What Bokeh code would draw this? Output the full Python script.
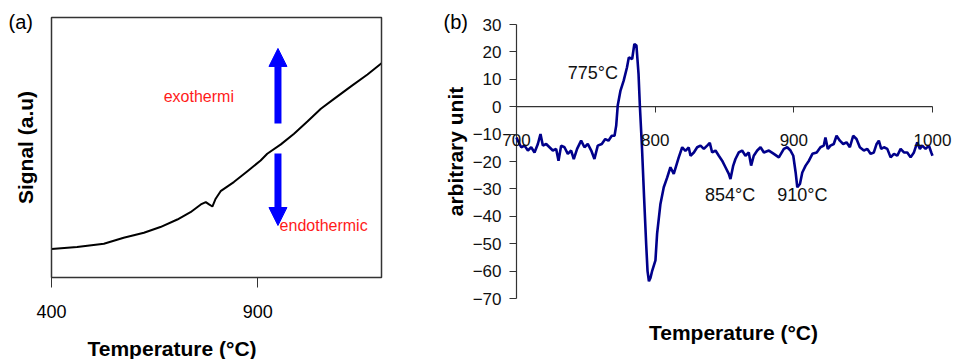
import math
from bokeh.plotting import figure
from bokeh.layouts import row
from bokeh.models import FixedTicker, Label, Arrow, NormalHead, Range1d, ColumnDataSource, BoxAnnotation
from bokeh.embed import file_html
from bokeh.resources import INLINE
from bokeh.core.properties import value

FONT = "Liberation Sans"

# ---------------- panel (a) data ----------------
a_temp = [400, 462, 527, 575, 624, 664, 705, 737, 762, 774, 782, 790, 798, 810,
          842, 875, 907, 923, 956, 988, 1021, 1053, 1085, 1126, 1166, 1200]
a_signal = [11.0, 11.7, 13.0, 15.3, 17.2, 19.4, 22.3, 25.1, 28.1, 29.0, 28.1, 27.3, 30.3, 33.2,
            36.7, 40.9, 45.0, 47.6, 51.2, 55.3, 60.1, 64.9, 68.7, 73.5, 78.1, 82.4]
a_xlim = [400, 1200]
a_ylim = [0, 100]
a_xticks = [400, 900]
arrow_x = 949
exo_arrow_y = [59.2, 88.1]    # start, tip
endo_arrow_y = [47.7, 20.0]   # start, tip
a_texts = ["exothermi", "endothermic"]
a_text_x = [672, 953]
a_text_y = [69.6, 20.0]

# ---------------- panel (b) data ----------------
b_temp = [700, 701, 703.4, 705.8, 708.2, 710.6, 713, 715.4, 717.3, 719, 721.4, 723.8, 726.2,
          728.6, 730.3, 732.2, 734.6, 737, 739.4, 741.3, 743.7, 746.6, 749, 751.4, 753.9,
          756.2, 758.6, 761.5, 764, 766.3, 768.7, 770.7, 771.9, 773, 775, 777.3, 779.7, 781,
          783.4, 785, 786.5, 788, 789, 790.5, 792, 793.5, 794.5, 795.5, 796.6, 797.9, 800.2,
          801.4, 803.8, 806.2, 808.7, 811, 813.4, 817, 819.5, 821.8, 824.2, 825.5, 827.9,
          830.3, 832.7, 835.1, 837.5, 839.4, 841.1, 843.5, 845.9, 848.3, 850.7, 853.1, 854.3,
          856.3, 857.9, 860.3, 862.7, 865.1, 867.5, 869.2, 871.1, 873.6, 876, 878.4, 882,
          885.6, 889.2, 892.8, 895.2, 897.6, 899.6, 901.3, 902.5, 904.4, 906.1, 908.5, 910.9,
          913.4, 916.5, 919.2, 921.6, 922.8, 924.5, 926.4, 928.8, 930.8, 933.2, 935.6, 938,
          940.4, 942.8, 945.2, 947.6, 950.5, 953, 955.3, 957.7, 959.7, 961.3, 963, 965, 967.4,
          969.8, 972.2, 974.6, 977, 979.4, 981.8, 984.2, 986.6, 989, 990.9, 992.6, 995, 997.4,
          999.1, 1000]
b_unit = [-11.2, -12.4, -14.8, -14.2, -16.0, -14.8, -16.7, -13.6, -10.0, -14.2, -13.6, -14.8,
          -16.0, -15.4, -19.7, -14.2, -14.8, -17.2, -16.0, -19.1, -15.4, -12.4, -14.8, -13.6,
          -16.0, -19.1, -14.2, -13.6, -11.8, -12.4, -10.6, -10.6, -6.9, 0.4, 5.9, 9.5, 14.4,
          18.0, 17.4, 22.9, 22.3, 12.0, 0.0, -15.0, -33.0, -50.0, -60.0, -63.7, -62.5, -59.8,
          -56.1, -46.3, -35.5, -29.4, -25.8, -22.1, -24.5, -18.5, -14.8, -16.1, -14.9, -17.9,
          -16.7, -14.8, -14.2, -15.4, -14.2, -13.2, -16.7, -16.0, -17.9, -19.7, -22.1, -24.5,
          -26.4, -21.5, -19.1, -16.7, -16.0, -17.9, -16.7, -21.5, -17.9, -16.0, -14.8, -16.7,
          -16.0, -17.2, -18.5, -15.4, -14.8, -16.0, -17.9, -24.0, -29.4, -28.2, -24.0, -21.5,
          -19.7, -17.2, -16.7, -14.8, -14.2, -11.2, -15.4, -14.2, -13.6, -10.6, -12.4, -13.6,
          -13.0, -14.8, -10.6, -11.8, -14.8, -16.0, -15.4, -17.2, -16.7, -13.6, -12.4, -15.4,
          -14.8, -15.4, -18.5, -17.2, -17.9, -15.4, -16.7, -16.7, -18.5, -16.7, -13.0, -15.4,
          -14.2, -15.4, -14.2, -16.7, -17.9]
b_xticks = [700, 800, 900, 1000]
b_yticks = [-70, -60, -50, -40, -30, -20, -10, 0, 10, 20, 30]
peak_labels = ["775°C", "854°C", "910°C"]
peak_x = [737, 836, 888]
peak_y = [12.4, -32.4, -32.4]

# ---------------- layout (pixels) ----------------
A_W, A_H = 430, 359
A_BOX = (51, 381, 17, 277)      # left, right, top, bottom of the plot box
B_W, B_H = 523, 359
B_BOX = (86, 502, 24, 298)      # x of 700 / 1000, y of 30 / -70


def full_ranges(W, H, box, xlim, ylim):
    l, r, t, b = box
    sx = (r - l) / (xlim[1] - xlim[0])
    sy = (b - t) / (ylim[1] - ylim[0])
    xr = Range1d(xlim[0] - l / sx, xlim[1] + (W - r) / sx)
    yr = Range1d(ylim[0] - (H - b) / sy, ylim[1] + t / sy)
    return xr, yr


def label(p, H, px, py, text, size, bold=False, align="left", angle=0.0, color="black"):
    p.add_layout(Label(x=px, y=H - py, x_units="screen", y_units="screen", text=text,
                       text_font=FONT, text_font_size=size,
                       text_font_style="bold" if bold else "normal",
                       text_align=align, text_baseline="middle", angle=angle,
                       text_color=color))


def base_fig(W, H, xr, yr):
    p = figure(width=W, height=H, x_range=xr, y_range=yr, output_backend="svg",
               toolbar_location=None, min_border=0, min_border_left=0, min_border_right=0,
               min_border_top=0, min_border_bottom=0)
    p.grid.visible = False
    p.outline_line_color = None
    p.background_fill_color = "white"
    p.border_fill_color = "white"
    return p


# ---------------- panel (a) ----------------
xr, yr = full_ranges(A_W, A_H, A_BOX, a_xlim, a_ylim)
pa = base_fig(A_W, A_H, xr, yr)
pa.add_layout(BoxAnnotation(left=a_xlim[0], right=a_xlim[1], bottom=a_ylim[0], top=a_ylim[1],
                            fill_alpha=0, line_color="#333333", line_width=1.5, line_alpha=1))

pa.line(a_temp, a_signal, line_color="black", line_width=2)

for ys in (exo_arrow_y, endo_arrow_y):
    pa.add_layout(Arrow(end=NormalHead(size=18, fill_color="#0000ff", line_color="#0000ff"),
                        x_start=arrow_x, y_start=ys[0], x_end=arrow_x, y_end=ys[1],
                        line_color="#0000ff", line_width=7))

pa.text(x=a_text_x, y=a_text_y, text=a_texts, text_color="#ff1a1a",
        text_font=value(FONT), text_font_size="16px", text_baseline="middle", text_align="left")

xa = pa.xaxis[0]
xa.fixed_location = a_ylim[0]
xa.ticker = FixedTicker(ticks=a_xticks)
xa.minor_tick_line_color = None
xa.major_tick_in = 0
xa.major_tick_out = 10
xa.major_tick_line_color = "#333333"
xa.axis_line_color = None
xa.major_label_text_font = FONT
xa.major_label_text_font_size = "18px"
xa.major_label_text_color = "black"
xa.major_label_standoff = 17
pa.yaxis.visible = False

label(pa, A_H, 25, 147, "Signal (a.u)", "21px", bold=True, align="center", angle=math.pi / 2)
label(pa, A_H, 87, 348, "Temperature (°C)", "21px", bold=True)
label(pa, A_H, 8, 21, "(a)", "20px")

# ---------------- panel (b) ----------------
xr, yr = full_ranges(B_W, B_H, B_BOX, [b_xticks[0], b_xticks[-1]], [b_yticks[0], b_yticks[-1]])
pb = base_fig(B_W, B_H, xr, yr)

# axis lines (zero line and the y axis at 700)
pb.line([b_xticks[0], b_xticks[-1]], [0, 0], line_color="#333333", line_width=1.2)
pb.line([b_xticks[0], b_xticks[0]], [b_yticks[0], b_yticks[-1]], line_color="#333333", line_width=1.2)

pb.line(b_temp, b_unit, line_color="#00008b", line_width=2.6)

src = ColumnDataSource(dict(x=peak_x, y=peak_y, t=peak_labels))
pb.text(x="x", y="y", text="t", source=src, text_color="#111111",
        text_font=value(FONT), text_font_size="18px", text_baseline="middle", text_align="left")

xb = pb.xaxis[0]
xb.fixed_location = 0
xb.ticker = FixedTicker(ticks=b_xticks)
xb.minor_tick_line_color = None
xb.major_tick_in = 0
xb.major_tick_out = 6
xb.major_tick_line_color = "#333333"
xb.axis_line_color = None
xb.major_label_text_font = FONT
xb.major_label_text_font_size = "17px"
xb.major_label_text_color = "#111111"
xb.major_label_standoff = 21

yb = pb.yaxis[0]
yb.fixed_location = b_xticks[0]
yb.ticker = FixedTicker(ticks=b_yticks)
yb.minor_tick_line_color = None
yb.major_tick_in = 0
yb.major_tick_out = 7
yb.major_tick_line_color = "#333333"
yb.axis_line_color = None
yb.major_label_text_font = FONT
yb.major_label_text_font_size = "17px"
yb.major_label_text_color = "#111111"
yb.major_label_standoff = 8

label(pb, B_H, 25, 151, "arbitrary unit", "21px", bold=True, align="center", angle=math.pi / 2)
label(pb, B_H, 303, 332, "Temperature (°C)", "21px", bold=True, align="center")
label(pb, B_H, 13, 21, "(b)", "20px")

layout = row(pa, pb)
open("out.html", "w").write(file_html(layout, INLINE))
